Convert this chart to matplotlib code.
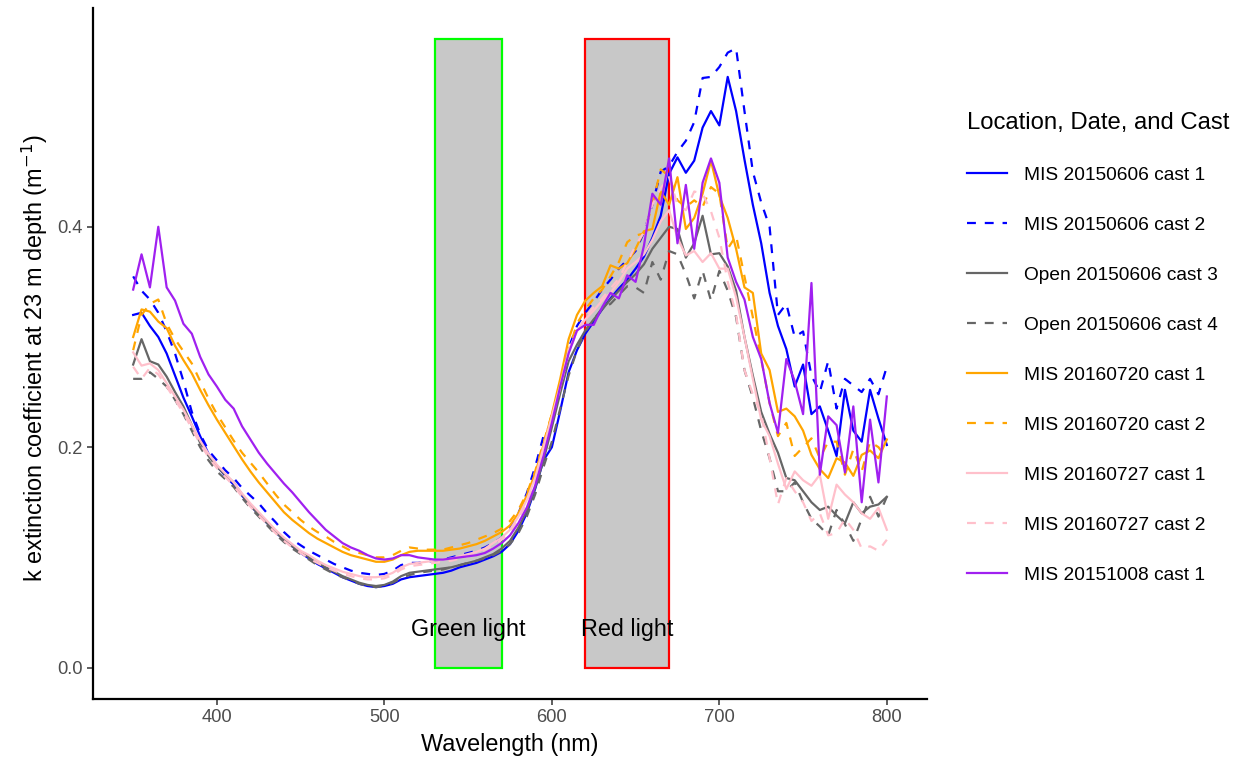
import numpy as np
import matplotlib
matplotlib.use("Agg")
import matplotlib.pyplot as plt
from matplotlib.patches import Rectangle

plt.rcParams["font.family"] = ["Liberation Sans", "DejaVu Sans"]

# wavelength grid (nm), one sample every 5 nm
wavelength = list(range(350, 801, 5))

mis_0606_c1 = [0.320, 0.322, 0.310, 0.300, 0.285, 0.265, 0.245, 0.228, 0.210, 0.194,
               0.183, 0.174, 0.166, 0.156, 0.147, 0.139, 0.131, 0.123, 0.116, 0.110,
               0.104, 0.099, 0.094, 0.090, 0.086, 0.082, 0.079, 0.076, 0.074, 0.073,
               0.074, 0.076, 0.080, 0.082, 0.083, 0.084, 0.085, 0.086, 0.088, 0.091,
               0.093, 0.095, 0.098, 0.101, 0.105, 0.112, 0.124, 0.140, 0.162, 0.188,
               0.200, 0.233, 0.268, 0.288, 0.303, 0.314, 0.325, 0.335, 0.344, 0.352,
               0.362, 0.373, 0.390, 0.410, 0.448, 0.463, 0.449, 0.460, 0.490, 0.505,
               0.492, 0.536, 0.505, 0.461, 0.420, 0.385, 0.340, 0.310, 0.289, 0.255,
               0.275, 0.230, 0.237, 0.215, 0.192, 0.252, 0.215, 0.205, 0.252, 0.226,
               0.202]
mis_0606_c2 = [0.355, 0.342, 0.334, 0.322, 0.305, 0.285, 0.260, 0.232, 0.212, 0.197,
               0.188, 0.179, 0.172, 0.163, 0.156, 0.149, 0.140, 0.132, 0.123, 0.116,
               0.111, 0.106, 0.102, 0.098, 0.094, 0.091, 0.088, 0.086, 0.085, 0.084,
               0.085, 0.088, 0.093, 0.095, 0.095, 0.096, 0.097, 0.098, 0.100, 0.102,
               0.104, 0.106, 0.109, 0.113, 0.118, 0.126, 0.140, 0.158, 0.182, 0.210,
               0.222, 0.258, 0.290, 0.310, 0.322, 0.332, 0.343, 0.352, 0.362, 0.370,
               0.378, 0.395, 0.420, 0.450, 0.455, 0.468, 0.478, 0.495, 0.535, 0.536,
               0.545, 0.558, 0.562, 0.505, 0.450, 0.422, 0.400, 0.320, 0.330, 0.300,
               0.305, 0.265, 0.250, 0.278, 0.235, 0.262, 0.256, 0.250, 0.262, 0.248,
               0.273]
open_0606_c3 = [0.275, 0.298, 0.278, 0.275, 0.264, 0.250, 0.237, 0.220, 0.204, 0.192,
                0.182, 0.175, 0.168, 0.157, 0.147, 0.139, 0.131, 0.123, 0.116, 0.110,
                0.105, 0.100, 0.095, 0.091, 0.087, 0.083, 0.080, 0.077, 0.075, 0.074,
                0.075, 0.078, 0.083, 0.086, 0.087, 0.088, 0.089, 0.090, 0.091, 0.093,
                0.095, 0.097, 0.100, 0.103, 0.108, 0.115, 0.127, 0.142, 0.163, 0.188,
                0.218, 0.249, 0.278, 0.293, 0.306, 0.316, 0.325, 0.334, 0.342, 0.350,
                0.357, 0.366, 0.380, 0.390, 0.400, 0.398, 0.372, 0.385, 0.410, 0.375,
                0.376, 0.364, 0.342, 0.300, 0.265, 0.232, 0.212, 0.195, 0.172, 0.170,
                0.160, 0.150, 0.143, 0.146, 0.138, 0.131, 0.150, 0.140, 0.146, 0.148,
                0.155]
open_0606_c4 = [0.262, 0.262, 0.268, 0.262, 0.255, 0.243, 0.230, 0.215, 0.200, 0.188,
                0.178, 0.171, 0.164, 0.154, 0.145, 0.137, 0.129, 0.121, 0.114, 0.108,
                0.103, 0.098, 0.093, 0.089, 0.085, 0.082, 0.079, 0.076, 0.074, 0.073,
                0.074, 0.077, 0.081, 0.084, 0.086, 0.087, 0.088, 0.089, 0.091, 0.093,
                0.095, 0.097, 0.099, 0.102, 0.106, 0.112, 0.122, 0.137, 0.157, 0.182,
                0.205, 0.235, 0.265, 0.288, 0.305, 0.316, 0.326, 0.330, 0.338, 0.346,
                0.345, 0.340, 0.368, 0.352, 0.378, 0.375, 0.357, 0.335, 0.360, 0.333,
                0.360, 0.342, 0.318, 0.270, 0.245, 0.215, 0.190, 0.160, 0.160, 0.168,
                0.150, 0.135, 0.128, 0.120, 0.143, 0.130, 0.115, 0.135, 0.155, 0.137,
                0.155]
mis_0720_c1 = [0.300, 0.325, 0.323, 0.314, 0.308, 0.292, 0.279, 0.267, 0.252, 0.238,
               0.225, 0.213, 0.201, 0.189, 0.178, 0.168, 0.159, 0.150, 0.141, 0.134,
               0.128, 0.122, 0.117, 0.113, 0.109, 0.105, 0.102, 0.100, 0.098, 0.096,
               0.096, 0.098, 0.102, 0.105, 0.106, 0.106, 0.106, 0.106, 0.107, 0.108,
               0.110, 0.112, 0.115, 0.119, 0.123, 0.129, 0.140, 0.156, 0.176, 0.202,
               0.230, 0.262, 0.298, 0.320, 0.333, 0.340, 0.346, 0.365, 0.362, 0.367,
               0.380, 0.396, 0.398, 0.432, 0.420, 0.445, 0.398, 0.408, 0.430, 0.460,
               0.428, 0.408, 0.380, 0.345, 0.340, 0.285, 0.270, 0.232, 0.235, 0.228,
               0.215, 0.193, 0.180, 0.172, 0.190, 0.186, 0.174, 0.193, 0.197, 0.190,
               0.207]
mis_0720_c2 = [0.288, 0.320, 0.330, 0.334, 0.312, 0.298, 0.287, 0.276, 0.260, 0.244,
               0.230, 0.218, 0.206, 0.195, 0.186, 0.177, 0.167, 0.157, 0.148, 0.141,
               0.134, 0.128, 0.123, 0.119, 0.114, 0.110, 0.106, 0.104, 0.102, 0.100,
               0.100, 0.102, 0.106, 0.109, 0.108, 0.107, 0.107, 0.107, 0.109, 0.111,
               0.113, 0.116, 0.119, 0.122, 0.126, 0.133, 0.143, 0.158, 0.178, 0.204,
               0.230, 0.255, 0.288, 0.312, 0.325, 0.335, 0.343, 0.355, 0.368, 0.386,
               0.392, 0.394, 0.420, 0.452, 0.446, 0.424, 0.418, 0.424, 0.418, 0.436,
               0.430, 0.380, 0.392, 0.355, 0.318, 0.280, 0.240, 0.210, 0.222, 0.192,
               0.200, 0.208, 0.190, 0.205, 0.205, 0.175, 0.198, 0.178, 0.205, 0.200,
               0.190]
mis_0727_c1 = [0.286, 0.274, 0.276, 0.270, 0.258, 0.246, 0.234, 0.220, 0.206, 0.194,
               0.184, 0.176, 0.168, 0.158, 0.149, 0.141, 0.133, 0.125, 0.118, 0.112,
               0.106, 0.102, 0.097, 0.093, 0.090, 0.087, 0.085, 0.083, 0.082, 0.082,
               0.083, 0.086, 0.091, 0.094, 0.095, 0.096, 0.097, 0.098, 0.099, 0.101,
               0.103, 0.105, 0.108, 0.113, 0.118, 0.125, 0.137, 0.152, 0.172, 0.200,
               0.228, 0.256, 0.288, 0.305, 0.316, 0.324, 0.333, 0.340, 0.350, 0.362,
               0.368, 0.375, 0.388, 0.405, 0.415, 0.390, 0.374, 0.378, 0.368, 0.376,
               0.362, 0.362, 0.336, 0.300, 0.262, 0.225, 0.210, 0.185, 0.162, 0.178,
               0.170, 0.165, 0.175, 0.135, 0.166, 0.157, 0.150, 0.140, 0.135, 0.145,
               0.125]
mis_0727_c2 = [0.273, 0.262, 0.272, 0.266, 0.255, 0.243, 0.231, 0.217, 0.203, 0.191,
               0.181, 0.173, 0.165, 0.155, 0.146, 0.138, 0.130, 0.122, 0.115, 0.109,
               0.104, 0.099, 0.095, 0.091, 0.088, 0.085, 0.083, 0.081, 0.080, 0.080,
               0.081, 0.084, 0.089, 0.092, 0.093, 0.094, 0.095, 0.096, 0.097, 0.099,
               0.101, 0.104, 0.107, 0.111, 0.116, 0.123, 0.135, 0.150, 0.170, 0.197,
               0.225, 0.254, 0.285, 0.305, 0.318, 0.327, 0.335, 0.344, 0.353, 0.368,
               0.383, 0.395, 0.420, 0.435, 0.445, 0.420, 0.415, 0.432, 0.430, 0.414,
               0.390, 0.350, 0.320, 0.270, 0.248, 0.230, 0.190, 0.148, 0.172, 0.160,
               0.150, 0.133, 0.140, 0.120, 0.122, 0.135, 0.125, 0.108, 0.110, 0.106,
               0.116]
mis_1008_c1 = [0.343, 0.375, 0.345, 0.400, 0.345, 0.333, 0.312, 0.303, 0.282, 0.266,
               0.255, 0.243, 0.235, 0.219, 0.207, 0.195, 0.185, 0.176, 0.167, 0.159,
               0.150, 0.141, 0.133, 0.125, 0.119, 0.113, 0.109, 0.106, 0.102, 0.099,
               0.098, 0.099, 0.102, 0.102, 0.100, 0.099, 0.098, 0.098, 0.099, 0.100,
               0.101, 0.102, 0.104, 0.108, 0.113, 0.120, 0.131, 0.145, 0.165, 0.192,
               0.222, 0.255, 0.285, 0.306, 0.311, 0.311, 0.327, 0.340, 0.335, 0.356,
               0.350, 0.383, 0.430, 0.420, 0.462, 0.385, 0.438, 0.380, 0.440, 0.462,
               0.440, 0.372, 0.350, 0.334, 0.300, 0.280, 0.240, 0.213, 0.280, 0.260,
               0.230, 0.349, 0.175, 0.228, 0.220, 0.177, 0.237, 0.150, 0.225, 0.168,
               0.246]

series_names = ["MIS 20150606 cast 1", "MIS 20150606 cast 2", "Open 20150606 cast 3",
                "Open 20150606 cast 4", "MIS 20160720 cast 1", "MIS 20160720 cast 2",
                "MIS 20160727 cast 1", "MIS 20160727 cast 2", "MIS 20151008 cast 1"]
series_values = [mis_0606_c1, mis_0606_c2, open_0606_c3, open_0606_c4,
                 mis_0720_c1, mis_0720_c2, mis_0727_c1, mis_0727_c2, mis_1008_c1]
series_colors = ["#0000FF", "#0000FF", "#666666", "#666666", "#FFA500",
                 "#FFA500", "#FFC0CB", "#FFC0CB", "#A020F0"]
series_dashed = [False, True, False, True, False, True, False, True, False]

# light bands (nm) and their top (k)
green_band = (530, 570)
red_band = (620, 670)
band_top = 0.57

fig = plt.figure(figsize=(12.38, 7.64), dpi=100)
ax = fig.add_axes([0.0751, 0.0851, 0.6737, 0.9044])

for (lo, hi), edge in [(green_band, "#00FF00"), (red_band, "#FF0000")]:
    ax.add_patch(Rectangle((lo, 0), hi - lo, band_top, facecolor="#C8C8C8",
                           edgecolor=edge, linewidth=1.6, zorder=1))

for name, vals, col, dash in zip(series_names, series_values, series_colors, series_dashed):
    ln, = ax.plot(wavelength, vals, color=col, lw=1.6, label=name, zorder=2)
    if dash:
        ln.set_dashes((4, 4))

ax.text(np.mean(green_band), 0.035, "Green light", ha="center", va="center", fontsize=16.8, zorder=3)
ax.text(np.mean(red_band), 0.035, "Red light", ha="center", va="center", fontsize=16.8, zorder=3)

ax.set_xlim(326, 824)
ax.set_ylim(-0.0285, 0.5985)
ax.set_xticks([400, 500, 600, 700, 800])
ax.set_yticks([0.0, 0.2, 0.4])
ax.set_yticklabels(["0.0", "0.2", "0.4"])
ax.tick_params(axis="both", labelsize=13.2, labelcolor="#4D4D4D", color="#333333",
               length=4, width=1.1)
for side in ["top", "right"]:
    ax.spines[side].set_visible(False)
for side in ["left", "bottom"]:
    ax.spines[side].set_linewidth(1.6)
ax.set_xlabel("Wavelength (nm)", fontsize=16.8, labelpad=5)
ax.set_ylabel("k extinction coefficient at 23 m depth (m$^{-1}$)", fontsize=16.9)
ax.yaxis.set_label_coords(-0.052, 0.493)

leg = fig.legend(loc="upper left", bbox_to_anchor=(0.7735, 0.866), frameon=False,
                 title="Location, Date, and Cast", title_fontsize=17.2, fontsize=13.8,
                 handlelength=2.1, handletextpad=0.85, labelspacing=1.70,
                 borderpad=0, alignment="left")

fig.savefig("out.png", dpi=100)
